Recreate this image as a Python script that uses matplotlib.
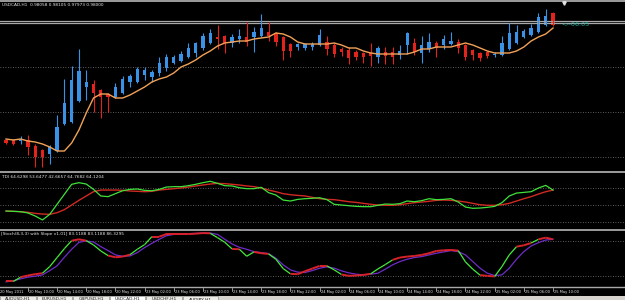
import matplotlib
matplotlib.use('Agg')
import matplotlib.pyplot as plt
import numpy as np
from matplotlib.collections import LineCollection
from matplotlib.lines import Line2D
from matplotlib.patches import Rectangle
import matplotlib.transforms as mtransforms

# ---------------- data ----------------
symbol_title = "USDCAD,H1  0.98058 0.98105 0.97973 0.98000"
tdi_title = "TDI 64.6298 53.6477 42.6657 64.7682 64.1204"
stoch_title = "[Stoch(8,3,3) with Slope v1.01] 83.1188 83.1188 86.3295"
timer_text = "<--06:05"

opens = [0.9685, 0.9685, 0.9684, 0.9685, 0.9679, 0.9675, 0.9671, 0.9674, 0.9701, 0.9703,
         0.9724, 0.9738, 0.9741, 0.9735, 0.9731, 0.9728, 0.9732, 0.9743, 0.9743, 0.9750,
         0.9748, 0.9752, 0.9757, 0.9762, 0.9764, 0.9768, 0.9772, 0.9777, 0.9782, 0.9788,
         0.9789, 0.9782, 0.9786, 0.9788, 0.9788, 0.9789, 0.9793, 0.9792, 0.9788, 0.9781,
         0.9778, 0.9777, 0.9778, 0.9780, 0.9783, 0.9780, 0.9776, 0.9775, 0.9773, 0.9772,
         0.9772, 0.9768, 0.9773, 0.9773, 0.9770, 0.9780, 0.9782, 0.9772, 0.9776, 0.9782,
         0.9780, 0.9781, 0.9783, 0.9780, 0.9775, 0.9772, 0.9773, 0.9770, 0.9770, 0.9776,
         0.9782, 0.9788, 0.9790, 0.9793, 0.9800, 0.9812]
highs = [0.9686, 0.9686, 0.9689, 0.9690, 0.9681, 0.9676, 0.9680, 0.9710, 0.9746, 0.9759,
         0.9776, 0.9755, 0.9745, 0.9736, 0.9732, 0.9742, 0.9749, 0.9751, 0.9758, 0.9758,
         0.9755, 0.9768, 0.9771, 0.9770, 0.9774, 0.9782, 0.9783, 0.9792, 0.9796, 0.9800,
         0.9790, 0.9791, 0.9796, 0.9803, 0.9798, 0.9811, 0.9803, 0.9793, 0.9789, 0.9782,
         0.9782, 0.9782, 0.9783, 0.9796, 0.9789, 0.9782, 0.9778, 0.9778, 0.9775, 0.9773,
         0.9782, 0.9779, 0.9778, 0.9778, 0.9780, 0.9793, 0.9787, 0.9789, 0.9792, 0.9784,
         0.9790, 0.9793, 0.9786, 0.9781, 0.9776, 0.9773, 0.9774, 0.9773, 0.9789, 0.9802,
         0.9800, 0.9796, 0.9801, 0.9812, 0.9816, 0.9813]
lows = [0.9681, 0.9680, 0.9681, 0.9670, 0.9658, 0.9658, 0.9661, 0.9673, 0.9700, 0.9702,
        0.9723, 0.9725, 0.9713, 0.9707, 0.9713, 0.9727, 0.9731, 0.9738, 0.9742, 0.9745,
        0.9743, 0.9749, 0.9754, 0.9761, 0.9763, 0.9767, 0.9768, 0.9775, 0.9781, 0.9776,
        0.9772, 0.9778, 0.9782, 0.9779, 0.9773, 0.9788, 0.9784, 0.9779, 0.9765, 0.9768,
        0.9775, 0.9775, 0.9775, 0.9779, 0.9770, 0.9768, 0.9769, 0.9761, 0.9765, 0.9762,
        0.9759, 0.9762, 0.9761, 0.9761, 0.9766, 0.9771, 0.9770, 0.9762, 0.9773, 0.9768,
        0.9776, 0.9780, 0.9772, 0.9765, 0.9765, 0.9764, 0.9767, 0.9768, 0.9769, 0.9775,
        0.9781, 0.9787, 0.9789, 0.9792, 0.9799, 0.9799]
closes = [0.9682, 0.9681, 0.9686, 0.9678, 0.9668, 0.9668, 0.9678, 0.9698, 0.9722, 0.9745,
          0.9754, 0.9743, 0.9732, 0.9728, 0.9728, 0.9738, 0.9746, 0.9749, 0.9756, 0.9755,
          0.9753, 0.9762, 0.9768, 0.9768, 0.9771, 0.9777, 0.9782, 0.9789, 0.9792, 0.9786,
          0.9782, 0.9788, 0.9789, 0.9783, 0.9793, 0.9797, 0.9789, 0.9783, 0.9774, 0.9774,
          0.9781, 0.9781, 0.9781, 0.9790, 0.9776, 0.9771, 0.9773, 0.9767, 0.9768, 0.9768,
          0.9769, 0.9777, 0.9769, 0.9768, 0.9774, 0.9792, 0.9773, 0.9780, 0.9783, 0.9777,
          0.9786, 0.9784, 0.9777, 0.9768, 0.9770, 0.9767, 0.9769, 0.9771, 0.9782, 0.9792,
          0.9793, 0.9794, 0.9797, 0.9808, 0.9809, 0.9800]
ma_line = [0.9686, 0.9685, 0.9686, 0.9684, 0.9683, 0.9681, 0.9678, 0.9674, 0.9674, 0.9682,
           0.9695, 0.9712, 0.9727, 0.9731, 0.9731, 0.9727, 0.9727, 0.9730, 0.9734, 0.9738,
           0.9743, 0.9746, 0.9748, 0.9752, 0.9758, 0.9761, 0.9765, 0.9770, 0.9774, 0.9779,
           0.9782, 0.9783, 0.9784, 0.9784, 0.9786, 0.9787, 0.9788, 0.9792, 0.9791, 0.9788,
           0.9783, 0.9781, 0.9781, 0.9781, 0.9781, 0.9782, 0.9780, 0.9777, 0.9777, 0.9774,
           0.9772, 0.9771, 0.9771, 0.9771, 0.9771, 0.9771, 0.9773, 0.9776, 0.9776, 0.9778,
           0.9778, 0.9778, 0.9780, 0.9782, 0.9780, 0.9777, 0.9774, 0.9772, 0.9772, 0.9772,
           0.9774, 0.9778, 0.9784, 0.9788, 0.9791, 0.9797]
h_levels = [0.9804, 0.9802]
price_grid = [0.9758, 0.9713, 0.9668]

tdi_green = [43.8, 43.5, 43.1, 41.8, 38.7, 34.6, 40.4, 50.7, 61.0, 71.3,
             73.0, 71.6, 66.1, 59.3, 58.6, 61.7, 64.7, 66.1, 66.5, 65.1,
             64.7, 66.1, 68.5, 68.9, 68.9, 69.9, 71.3, 73.0, 74.4, 72.3,
             69.9, 69.6, 67.8, 66.8, 66.8, 68.2, 62.7, 60.3, 55.1, 54.1,
             55.8, 56.5, 56.9, 57.5, 55.5, 50.7, 50.0, 49.3, 48.6, 48.3,
             48.3, 49.7, 51.0, 50.7, 51.4, 54.1, 53.4, 54.5, 56.5, 55.5,
             55.8, 56.5, 53.1, 47.9, 46.6, 46.9, 47.6, 48.6, 52.4, 59.3,
             62.3, 63.0, 63.7, 67.5, 70.2, 65.4]
tdi_red = [43.8, 43.5, 43.1, 42.5, 41.4, 40.7, 40.4, 42.1, 45.2, 50.0,
           54.8, 59.3, 63.7, 65.4, 65.4, 65.4, 65.1, 64.4, 64.1, 63.7,
           64.1, 65.4, 66.1, 66.8, 67.5, 68.5, 69.6, 70.6, 71.6, 72.3,
           72.0, 71.3, 70.6, 69.6, 68.9, 67.5, 65.4, 63.7, 61.7, 60.6,
           59.9, 59.3, 57.9, 56.5, 55.8, 55.5, 54.5, 53.4, 52.7, 51.7,
           50.7, 50.0, 49.7, 49.7, 50.3, 51.4, 52.4, 53.1, 53.8, 54.8,
           55.1, 54.8, 54.1, 53.1, 51.7, 50.3, 49.7, 49.7, 50.3, 51.7,
           54.1, 56.5, 58.6, 61.3, 63.7, 65.4]
tdi_levels = [68, 50, 32]

stoch_main = [9.6, 9.6, 17.1, 20.0, 22.3, 24.0, 35.6, 51.2, 66.7, 80.6,
              82.9, 80.6, 73.1, 62.7, 54.6, 51.7, 52.9, 56.3, 65.6, 73.7,
              87.5, 87.5, 92.1, 92.1, 92.1, 92.1, 92.7, 93.8, 93.3, 85.8,
              77.7, 66.2, 65.6, 53.5, 61.0, 58.7, 57.5, 48.3, 32.1, 22.9,
              22.3, 27.5, 32.1, 36.7, 36.7, 29.8, 21.7, 19.4, 20.0, 21.1,
              22.9, 31.5, 39.0, 47.1, 51.2, 52.9, 54.0, 55.8, 58.7, 62.7,
              63.8, 64.4, 63.3, 43.6, 31.0, 20.6, 19.4, 18.3, 35.6, 55.8,
              70.2, 72.5, 76.5, 82.9, 85.8, 82.9]
stoch_signal = [9.0, 10.8, 14.2, 17.1, 18.8, 21.1, 28.6, 36.7, 51.7, 65.6,
                77.7, 80.0, 78.3, 70.2, 63.3, 55.8, 53.5, 54.0, 59.8, 68.5,
                76.0, 82.9, 89.2, 91.5, 92.1, 92.7, 93.3, 93.8, 93.8, 91.5,
                82.9, 74.8, 69.0, 65.6, 61.5, 59.8, 58.1, 50.0, 38.5, 29.8,
                25.8, 25.2, 28.6, 32.7, 35.0, 32.7, 28.1, 24.6, 22.3, 21.1,
                22.3, 24.0, 31.0, 38.5, 44.2, 48.3, 51.2, 52.9, 55.8, 58.7,
                61.0, 63.3, 61.5, 55.8, 44.2, 32.7, 24.0, 20.0, 21.1, 32.7,
                48.3, 61.5, 71.3, 77.1, 81.7, 82.9]
stoch_levels = [80, 20]
slope_flat = 5.5

time_labels = ["20 May 2011", "20 May 10:00", "20 May 14:00", "20 May 18:00", "20 May 22:00",
               "23 May 02:00", "23 May 06:00", "23 May 10:00", "23 May 14:00", "23 May 18:00",
               "23 May 22:00", "24 May 02:00", "24 May 06:00", "24 May 10:00", "24 May 14:00",
               "24 May 18:00", "24 May 22:00", "25 May 02:00", "25 May 06:00", "25 May 10:00"]
first_label_bar = -1
label_step = 4
tabs = ["AUDUSD,H1", "EURUSD,H1", "GBPUSD,H1", "USDCAD,H1", "USDCHF,H1", "AUDJPY,H1"]
active_tab = "USDCAD,H1"

# ---------------- style ----------------
BG = 'black'
BULL = '#3a92e6'
BEAR = '#e3231c'
MA_C = '#f2a257'
GRID_C = '#7a7a7a'
SEP_C = '#a9a9a9'
TXT_C = '#e6e6e6'
FONT = 'DejaVu Sans'

W, H = 625, 300
fig = plt.figure(figsize=(W / 100, H / 100), dpi=100, facecolor=BG)


def make_ax(top, bottom):
    a = fig.add_axes([0, 1 - bottom / H, 1, (bottom - top) / H])
    a.set_facecolor(BG)
    a.set_xticks([])
    a.set_yticks([])
    for s in ['left', 'right', 'bottom']:
        a.spines[s].set_visible(False)
    a.spines['top'].set_color(SEP_C)
    a.spines['top'].set_linewidth(1.3)
    a.set_xlim(-0.823, 84.87)
    return a


ax = make_ax(0.5, 171)
ax2 = make_ax(171.5, 229)
ax3 = make_ax(229.5, 287)

n = len(opens)
x = np.arange(n)
o = np.array(opens); c = np.array(closes); hi = np.array(highs); lo = np.array(lows)
cols = np.where(c >= o, BULL, BEAR)

# --- main price panel ---
ax.set_ylim(0.9654, 0.98245)
for g in price_grid:
    ax.axhline(g, color=GRID_C, lw=0.6, ls=(0, (1, 2)))
for lv in h_levels:
    ax.axhline(lv, color=SEP_C, lw=0.9)
ax.vlines(x, lo, hi, colors=cols, lw=0.8)
body = np.maximum(np.abs(c - o), 0.00008)
ax.bar(x, body, bottom=np.minimum(o, c), width=0.45, color=cols, lw=0)
ax.plot(x, ma_line, color=MA_C, lw=1.0)
ax.text(x[-1] + 1.1, closes[-1] + 0.00001, timer_text, color='#22b3a2', fontsize=4.6,
        va='center', ha='left', family=FONT)
fig.text(2 / W, 1 - 4.5 / H, symbol_title, color=TXT_C, fontsize=3.1, va='center',
         ha='left', family=FONT)
fig.add_artist(Line2D([563.5 / W], [1 - 2.5 / H], marker='v', color='#e0e0e0', ms=2.5,
                      transform=fig.transFigure))

# --- TDI panel ---
ax2.set_ylim(25.3, 84.5)
for lv in tdi_levels:
    ax2.axhline(lv, color=GRID_C, lw=0.6, ls=(0, (1, 2)))
ax2.plot(x, tdi_red, color='#d12a22', lw=1.0)
ax2.plot(x, tdi_green, color='#3fe23a', lw=0.9)
fig.text(2 / W, 1 - 176.5 / H, tdi_title, color=TXT_C, fontsize=3.1, va='center',
         ha='left', family=FONT)

# --- Stochastic panel ---
ax3.set_ylim(0, 100)
for lv in stoch_levels:
    ax3.axhline(lv, color=GRID_C, lw=0.6, ls=(0, (1, 2)))
ax3.plot(x, stoch_signal, color='#6e2cc8', lw=0.9)
sm = np.array(stoch_main)
pts = np.column_stack([x, sm])
segs = np.stack([pts[:-1], pts[1:]], axis=1)
flat = np.abs(np.diff(sm)) < slope_flat
seg_cols = np.where(flat, '#d8222a', '#45ea3c')
seg_lw = np.where(flat, 1.4, 0.9)
ax3.add_collection(LineCollection(segs, colors=seg_cols, linewidths=seg_lw))
fig.text(1 / W, 1 - 234 / H, stoch_title, color=TXT_C, fontsize=3.1, va='center',
         ha='left', family=FONT)
ax3.spines['bottom'].set_visible(True)
ax3.spines['bottom'].set_color(SEP_C)
ax3.spines['bottom'].set_linewidth(1.0)

# --- time axis ---
tick_bars = [first_label_bar + label_step * k for k in range(len(time_labels))]
trans = mtransforms.blended_transform_factory(ax3.transData, fig.transFigure)
offset = mtransforms.ScaledTranslation(1.0 / 100, 0, fig.dpi_scale_trans)
for b, lab in zip(tick_bars, time_labels):
    fig.add_artist(Line2D([b, b], [1 - 288 / H, 1 - 291 / H], color='#cfcfcf', lw=0.5,
                          transform=trans))
    fig.text(b, 1 - 291.5 / H, lab, color=TXT_C, fontsize=2.6, va='center', ha='left',
             family=FONT, transform=trans + offset)

# --- tab bar ---
fig.add_artist(Rectangle((0, 0), 1, 4.5 / H, transform=fig.transFigure,
                         facecolor='#d6d3ce', edgecolor='none'))
tab_w = 36.5
for i, t in enumerate(tabs):
    x0 = i * tab_w
    fc = '#ffffff' if t == active_tab else '#ecebe6'
    fig.add_artist(Rectangle((x0 / W, 0), (tab_w - 1) / W, 4 / H, transform=fig.transFigure,
                             facecolor=fc, edgecolor='#808080', lw=0.4))
    fig.text((x0 + tab_w / 2) / W, 0.5 / H, t, color='#202020', fontsize=3.2,
             ha='center', va='center', family=FONT)

fig.savefig('out.png', dpi=100, facecolor=BG)
